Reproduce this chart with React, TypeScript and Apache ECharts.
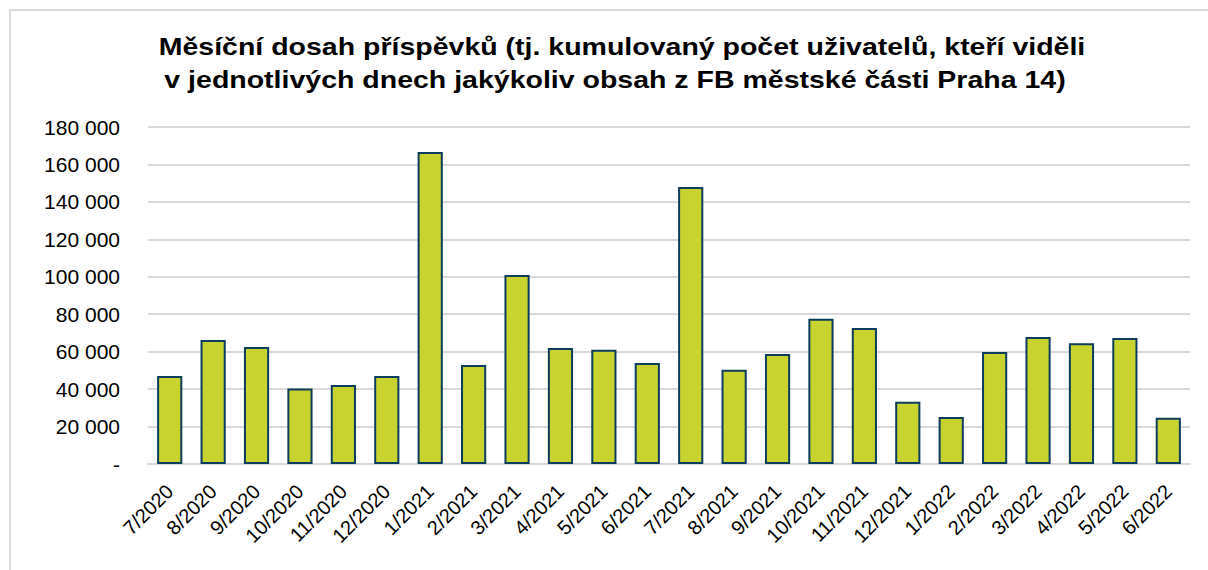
import React, { useEffect, useRef } from "react";
import * as echarts from "echarts";

const categories = [
  "7/2020", "8/2020", "9/2020", "10/2020", "11/2020", "12/2020",
  "1/2021", "2/2021", "3/2021", "4/2021", "5/2021", "6/2021",
  "7/2021", "8/2021", "9/2021", "10/2021", "11/2021", "12/2021",
  "1/2022", "2/2022", "3/2022", "4/2022", "5/2022", "6/2022",
];
const reach = [
  47000, 66200, 62500, 40300, 42200, 47000,
  166700, 52900, 101000, 62000, 61000, 54000,
  148000, 50400, 58800, 77600, 72600, 33200,
  25100, 59800, 67900, 64500, 67300, 24700,
];
const titleLines = [
  "Měsíční dosah příspěvků (tj. kumulovaný počet uživatelů, kteří viděli",
  "v jednotlivých dnech jakýkoliv obsah z FB městské části Praha 14)",
];

const fmt = (v: number) =>
  v === 0 ? "-" : String(v).replace(/\B(?=(\d{3})+(?!\d))/g, " ");

const FONT = "Liberation Sans, Arial, sans-serif";

export default function App() {
  const ref = useRef<HTMLDivElement>(null);
  useEffect(() => {
    const chart = echarts.init(ref.current!, null, { renderer: "svg" });
    chart.setOption({
      animation: false,
      backgroundColor: "#ffffff",
      textStyle: { fontFamily: FONT },
      graphic: [
        {
          type: "rect",
          shape: { x: 10, y: 10, width: 1400, height: 800 },
          style: { fill: "none", stroke: "#d9d9d9", lineWidth: 2 },
          silent: true,
        },
        ...titleLines.map((t, i) => ({
          type: "text",
          x: i === 0 ? 622 : 615,
          y: 47 + i * 33,
          scaleX: 1.24,
          style: {
            text: t,
            font: `bold 23px ${FONT}`,
            fill: "#000000",
            textAlign: "center",
            textVerticalAlign: "middle",
          },
          silent: true,
        })),
      ],
      grid: { left: 148, right: 18, top: 127, bottom: 106 },
      xAxis: {
        type: "category",
        data: categories,
        axisLine: { lineStyle: { color: "#d9d9d9", width: 2 } },
        axisTick: { show: false },
        axisLabel: {
          rotate: 45,
          interval: 0,
          fontSize: 20,
          color: "#000000",
          margin: 24,
        },
      },
      yAxis: {
        type: "value",
        min: 0,
        max: 180000,
        interval: 20000,
        axisLine: { show: false },
        axisTick: { show: false },
        splitLine: { lineStyle: { color: "#d9d9d9", width: 2 } },
        axisLabel: {
          fontSize: 21,
          color: "#000000",
          margin: 28,
          formatter: (v: number) => fmt(v),
        },
      },
      series: [
        {
          type: "bar",
          data: reach,
          barCategoryGap: "42%",
          itemStyle: {
            color: "#c8d32f",
            borderColor: "#0d3d5c",
            borderWidth: 2,
          },
        },
      ],
    });
    return () => chart.dispose();
  }, []);
  return (
    <div
      ref={ref}
      style={{ position: "absolute", left: 0, top: 0, width: 1208, height: 570 }}
    />
  );
}
